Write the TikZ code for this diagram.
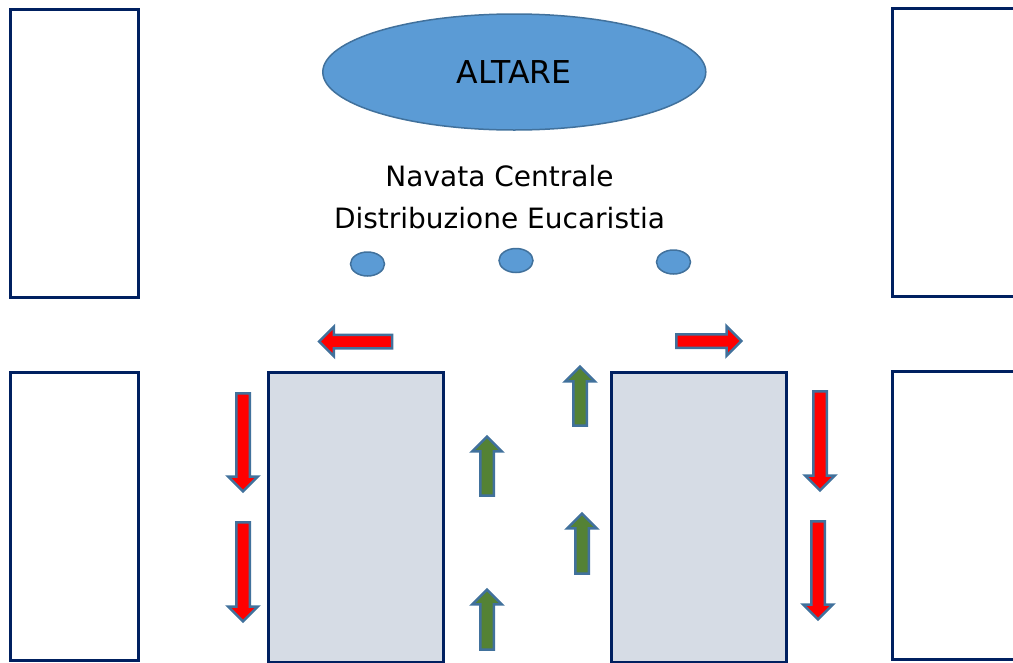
\documentclass[tikz,border=0pt]{standalone}
\usepackage{fontspec}
\setmainfont{DejaVu Sans}
\usetikzlibrary{shapes.geometric,shapes.arrows}
\definecolor{panca}{RGB}{0,32,96}
\definecolor{altareblu}{RGB}{91,155,213}
\definecolor{bordoblu}{RGB}{65,113,156}
\definecolor{grigio}{RGB}{214,220,229}
\definecolor{verde}{RGB}{84,130,53}

\begin{document}
\begin{tikzpicture}[x=1pt,y=-1pt,
		banco/.style={rectangle,draw=panca,line width=3pt,minimum width=128pt,minimum height=288pt},
		blocco/.style={rectangle,draw=panca,line width=3pt,fill=grigio,minimum width=175pt,minimum height=290pt},
		freccia/.style={single arrow,draw=bordoblu,line width=2.5pt,inner sep=5.5pt,
			single arrow head extend=8pt,single arrow head indent=0pt},
		andata/.style={freccia,fill=red},
		ritorno/.style={freccia,fill=verde,rotate=90}]
				\clip (0,0) rectangle (1013,662);
				% banchi laterali
				\node[banco] (bancoSX1) at (74,153) {};
				\node[banco] (bancoSX2) at (74,516.5) {};
				\node[banco] (bancoDX1) at (956,152) {};
				\node[banco] (bancoDX2) at (956,515) {};
				% banchi centrali
				\node[blocco] (centroSX) at (355.5,517) {};
				\node[blocco] (centroDX) at (698.5,517) {};
				% altare e ministri
				\node[ellipse,draw=bordoblu,line width=1.5pt,fill=altareblu,minimum width=383pt,minimum height=116pt,
					font=\fontsize{31.5}{36}\selectfont] (altare) at (514.3,72) {ALTARE};
				\node[align=center,anchor=base,font=\fontsize{28}{42}\selectfont] (titolo) at (499.5,228)
					{Navata Centrale\\Distribuzione Eucaristia};
				\begin{scope}[every node/.style={ellipse,draw=bordoblu,line width=1.5pt,fill=altareblu,
						minimum width=34pt,minimum height=24pt,inner sep=0pt}]
					\node (ministro1) at (367.5,264) {};
					\node (ministro2) at (516,260.5) {};
					\node (ministro3) at (673.5,262) {};
				\end{scope}
				% percorso di andata
				\node[andata,rotate=180,minimum height=73pt] (vaiSX) at (359,341.5) {};
				\node[andata,minimum height=65pt] (vaiDX) at (705.5,341) {};
				\node[andata,rotate=-90,minimum height=98pt] (scendiSX1) at (243,439) {};
				\node[andata,rotate=-90,minimum height=99pt] (scendiSX2) at (243,568.5) {};
				\node[andata,rotate=-90,minimum height=99pt] (scendiDX1) at (820,437.5) {};
				\node[andata,rotate=-90,minimum height=98pt] (scendiDX2) at (818,567) {};
				% percorso di ritorno
				\node[ritorno,minimum height=59pt] (saliSX1) at (487,469.5) {};
				\node[ritorno,minimum height=60pt] (saliSX2) at (487,623) {};
				\node[ritorno,minimum height=59pt] (saliDX1) at (580,399.5) {};
				\node[ritorno,minimum height=60pt] (saliDX2) at (582,547) {};
\end{tikzpicture}
\end{document}
